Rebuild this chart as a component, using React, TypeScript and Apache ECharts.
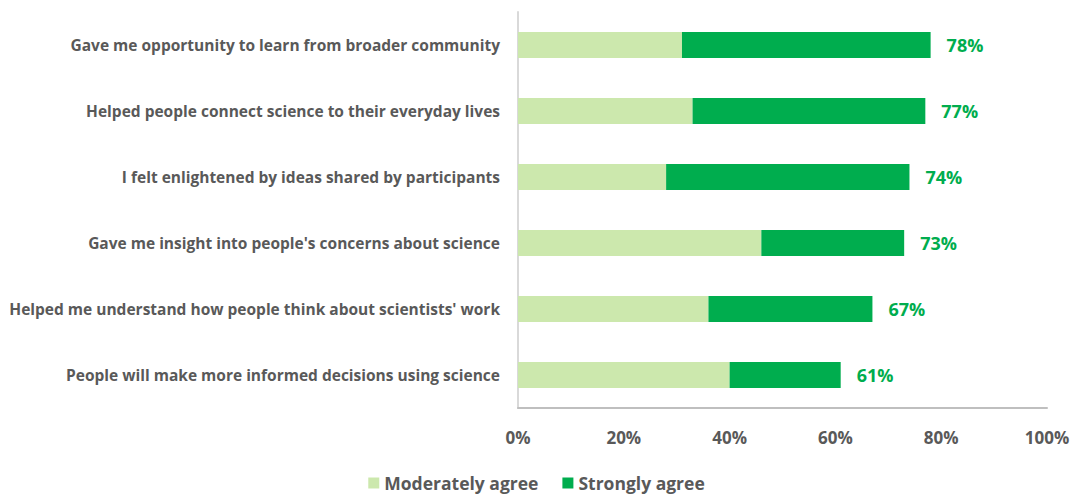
import React, { useEffect, useRef } from "react";
import * as echarts from "echarts";

const categories = [
  "Gave me opportunity to learn from broader community",
  "Helped people connect science to their everyday lives",
  "I felt enlightened by ideas shared by participants",
  "Gave me insight into people's concerns about science",
  "Helped me understand how people think about scientists' work",
  "People will make more informed decisions using science",
];
const moderatelyAgree = [31, 33, 28, 46, 36, 40];
const stronglyAgree = [47, 44, 46, 27, 31, 21];
const totals = [78, 77, 74, 73, 67, 61];
const seriesNames = ["Moderately agree", "Strongly agree"];

const FONT = "Open Sans";
const GRAY = "#595959";

export default function App() {
  const ref = useRef<HTMLDivElement>(null);
  useEffect(() => {
    if (!ref.current) return;
    const chart = echarts.init(ref.current, null, { renderer: "svg" });
    const cats = [...categories].reverse();
    const mod = [...moderatelyAgree].reverse();
    const str = [...stronglyAgree].reverse();
    const tot = [...totals].reverse();
    chart.setOption({
      animation: false,
      textStyle: { fontFamily: FONT },
      grid: { left: 518, right: 26, top: 12, bottom: 89, containLabel: false },
      legend: {
        bottom: 0,
        left: "center",
        itemWidth: 11,
        itemHeight: 11,
        itemGap: 24,
        icon: "rect",
        textStyle: { color: GRAY, fontSize: 17.5, fontWeight: "bold", fontFamily: FONT },
        data: seriesNames,
      },
      xAxis: {
        type: "value",
        min: 0,
        max: 100,
        interval: 20,
        axisLine: { show: true, lineStyle: { color: "#bfbfbf", width: 2 } },
        axisTick: { show: false },
        splitLine: { show: false },
        axisLabel: {
          formatter: "{value}%",
          color: GRAY,
          fontSize: 17,
          fontWeight: "bold",
          margin: 21,
          fontFamily: FONT,
        },
      },
      yAxis: {
        type: "category",
        data: cats,
        axisLine: { show: true, lineStyle: { color: "#d9d9d9", width: 2 } },
        axisTick: { show: false },
        axisLabel: {
          color: GRAY,
          fontSize: 15.5,
          fontWeight: "bold",
          margin: 18,
          fontFamily: FONT,
        },
      },
      series: [
        {
          name: seriesNames[0],
          type: "bar",
          stack: "total",
          data: mod,
          barWidth: 26,
          itemStyle: { color: "#cce8ad" },
        },
        {
          name: seriesNames[1],
          type: "bar",
          stack: "total",
          data: str,
          barWidth: 26,
          itemStyle: { color: "#00ad4e" },
          label: {
            show: true,
            position: "right",
            distance: 16,
            formatter: (p: any) => tot[p.dataIndex] + "%",
            color: "#00ad4e",
            fontSize: 18,
            fontWeight: "bold",
            fontFamily: FONT,
          },
        },
      ],
    });
    return () => chart.dispose();
  }, []);
  return <div ref={ref} style={{ width: 1073, height: 497, position: "absolute", left: 0, top: 0 }} />;
}
